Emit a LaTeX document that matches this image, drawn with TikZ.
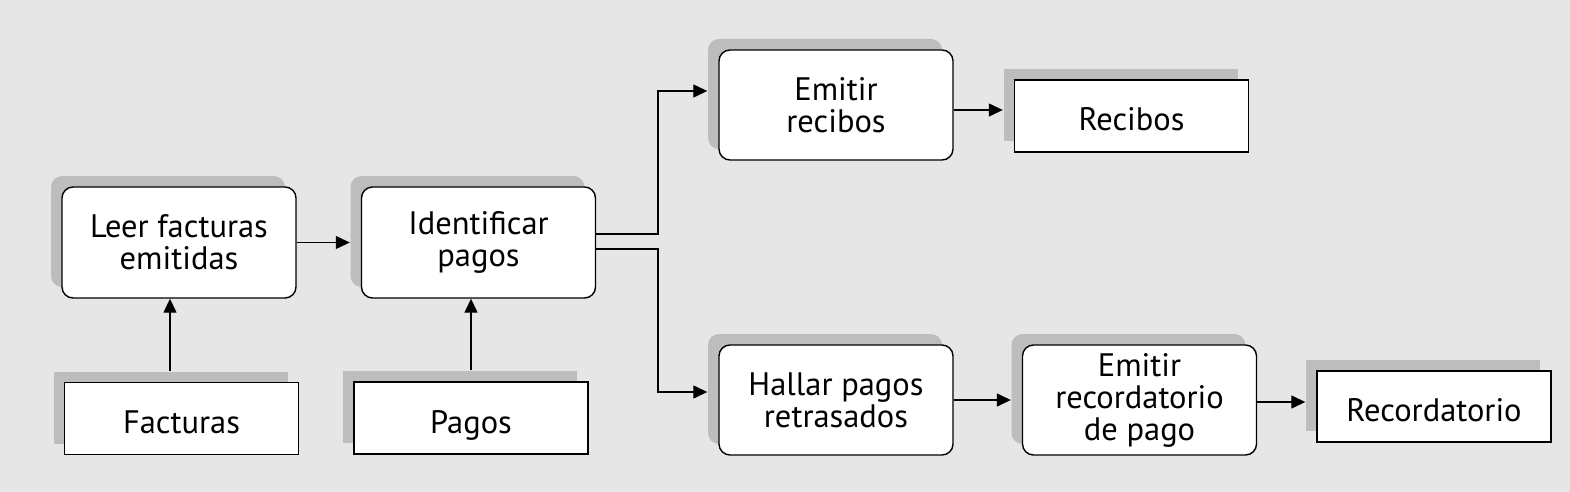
\documentclass[tikz,border=0pt]{standalone}
\usepackage{fontspec}
\setmainfont{PT Sans}
\usetikzlibrary{arrows.meta,shadows,calc}
\definecolor{bg}{HTML}{E6E6E6}
\definecolor{shadowgray}{HTML}{BDBDBD}
\begin{document}
\begin{tikzpicture}[x=1pt,y=-1pt,
  font=\fontsize{32.5}{32}\selectfont,
  procbox/.style={draw=black, line width=1.4pt, fill=white, rounded corners=11pt,
    minimum width=234pt, minimum height=111pt, inner sep=0pt, align=center,
    general shadow={shadow xshift=-11pt, shadow yshift=11pt, fill=shadowgray, draw=none}},
  databox/.style={draw=black, line width=1.4pt, fill=white,
    minimum width=234pt, minimum height=72pt, inner sep=0pt, align=center,
    text height=30pt, text depth=0pt,
    general shadow={shadow xshift=-11pt, shadow yshift=11pt, fill=shadowgray, draw=none}},
  arr/.style={line width=1.3pt, -{Triangle[length=14pt,width=13pt]}},
  ln/.style={line width=1.3pt}]
\fill[bg] (0,0) rectangle (1570,492);
\useasboundingbox (0,0) rectangle (1570,492);

\node[procbox] (leer) at (179,242.5) {Leer facturas\\emitidas};
\node[procbox] (ident) at (478.5,242.5) {Identificar\\pagos};
\node[databox] (fact) at (181.5,418.5) {Facturas};
\node[databox] (pagos) at (471,418) {Pagos};
\node[procbox, minimum height=110pt] (emrec) at (836,105) {Emitir\\recibos};
\node[databox] (recibos) at (1131.5,116) {Recibos};
\node[procbox, minimum height=110pt] (hallar) at (836,400) {Hallar pagos\\retrasados};
\node[procbox, minimum height=110pt] (emrecord) at (1139.5,400) {Emitir\\recordatorio\\de pago};
\node[databox, minimum height=71pt] (record) at (1434,406.5) {Recordatorio};

\draw[arr] (leer.east) -- ($(ident.west)+(-11,0)$);
\coordinate (fa) at ($(fact.north)+(-11.5,-11)$);
\draw[arr] (fa) -- (fa |- leer.south);
\coordinate (pa) at ($(pagos.north)+(0,-11)$);
\draw[arr] (pa) -- (pa |- ident.south);

\coordinate (s1) at ($(ident.east)+(0,-8.5)$);
\coordinate (t1) at ($(emrec.west)+(-11,-14)$);
\coordinate (bx) at (658,0);
\draw[arr] (s1) -- (bx |- s1) -- (bx |- t1) -- (t1);
\coordinate (s2) at ($(ident.east)+(0,6.5)$);
\coordinate (t2) at ($(hallar.west)+(-11,-8)$);
\draw[arr] (s2) -- (bx |- s2) -- (bx |- t2) -- (t2);

\coordinate (s3) at ($(emrec.east)+(0,5)$);
\draw[arr] (s3) -- (s3 -| {$(recibos.west)+(-11,0)$});
\draw[arr] (hallar.east) -- ($(emrecord.west)+(-11,0)$);
\coordinate (s4) at ($(emrecord.east)+(0,2)$);
\draw[arr] (s4) -- (s4 -| {$(record.west)+(-11,0)$});
\end{tikzpicture}
\end{document}
